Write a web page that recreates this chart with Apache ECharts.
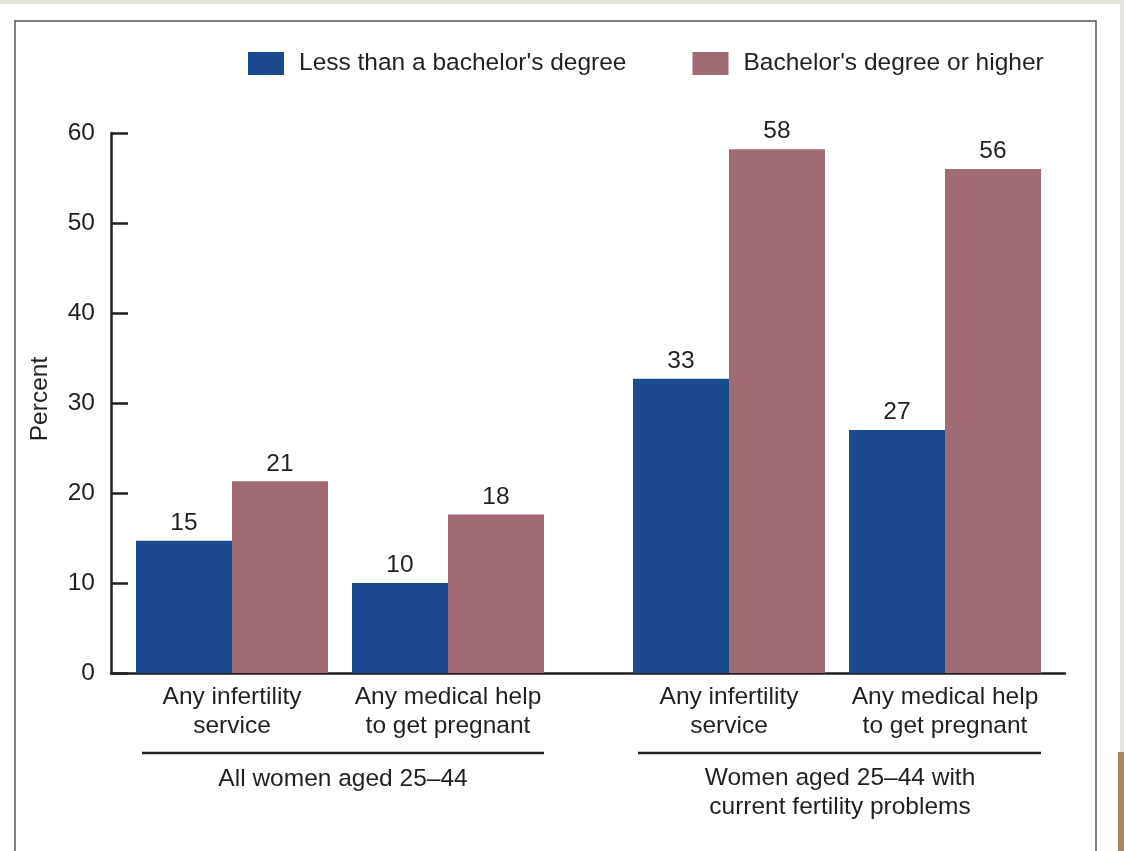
<!DOCTYPE html>
<html>
<head>
<meta charset="utf-8">
<script src="https://cdn.jsdelivr.net/npm/echarts@6/dist/echarts.min.js"></script>
<style>
  html, body { margin: 0; padding: 0; background: #fff; }
  #chart { width: 1124px; height: 851px; }
</style>
</head>
<body>
<div id="chart"></div>
<script>
// Данные графика
const seriesNames = ["Less than a bachelor's degree", "Bachelor's degree or higher"];
const categories = ['Any infertility\nservice', 'Any medical help\nto get pregnant'];
const groupNames = ['All women aged 25–44', 'Women aged 25–44 with\ncurrent fertility problems'];
// значения по группам: [группа][категория]
const lessThanBachelor = [[14.7, 10.0], [32.7, 27.0]];
const bachelorOrHigher = [[21.3, 17.6], [58.2, 56.0]];
const yTicks = { min: 0, max: 60, interval: 10 };

const INK = '#231f20';
const BLUE = '#1c4a8f';
const ROSE = '#a06b73';
const FONT = '"Liberation Sans", Arial, sans-serif';
const FS = 24.5;

const chart = echarts.init(document.getElementById('chart'), null, { renderer: 'canvas' });

const grids = [
  { left: 124, width: 432, top: 133, bottom: 178 },
  { left: 621, width: 432, top: 133, bottom: 178 },
  // базовая линия оси X на всю ширину
  { left: 111, right: 59, top: 133, bottom: 178 },
];

const xAxes = [0, 1].map((i) => ({
  type: 'category',
  gridIndex: i,
  data: categories,
  axisLine: { show: false },
  axisTick: { show: false },
  axisLabel: { color: INK, fontSize: FS, lineHeight: 29, fontFamily: FONT, margin: 10, interval: 0 },
}));
xAxes.push({
  type: 'value', gridIndex: 2, min: 0, max: 1,
  axisLine: { show: true, lineStyle: { color: INK, width: 2.5 } },
  axisTick: { show: false }, axisLabel: { show: false }, splitLine: { show: false },
});

const yAxes = [
  {
    type: 'value', gridIndex: 0, ...yTicks, offset: 13,
    name: 'Percent', nameLocation: 'middle', nameGap: 58, nameRotate: 90,
    nameTextStyle: { color: INK, fontSize: FS, fontFamily: FONT, padding: [0, 0, 0, 8] },
    axisLine: { show: true, lineStyle: { color: INK, width: 2.5 } },
    axisTick: { show: true, inside: true, length: 17, lineStyle: { color: INK, width: 2.5 } },
    axisLabel: { color: INK, fontSize: FS, fontFamily: FONT, margin: 16 },
    splitLine: { show: false },
  },
  { type: 'value', gridIndex: 1, ...yTicks, show: false },
  { type: 'value', gridIndex: 2, ...yTicks, show: false },
];

const barLabel = {
  show: true, position: 'top', distance: 5,
  color: INK, fontSize: FS, fontFamily: FONT,
  formatter: (p) => Math.round(p.value),
};

const series = [];
[0, 1].forEach((g) => {
  series.push({
    name: seriesNames[0], type: 'bar', xAxisIndex: g, yAxisIndex: g,
    data: lessThanBachelor[g], barWidth: 96, barGap: '0%',
    itemStyle: { color: BLUE }, label: barLabel, silent: true,
  });
  series.push({
    name: seriesNames[1], type: 'bar', xAxisIndex: g, yAxisIndex: g,
    data: bachelorOrHigher[g], barWidth: 96, barGap: '0%',
    itemStyle: { color: ROSE }, label: barLabel, silent: true,
  });
});

const groupLine = (x1, x2) => ({
  type: 'line', shape: { x1, y1: 753, x2, y2: 753 },
  style: { stroke: INK, lineWidth: 2.5 }, silent: true,
});
const groupText = (x, y, text) => ({
  type: 'text', x, y,
  style: { text, fill: INK, font: `${FS}px ${FONT}`, align: 'center', verticalAlign: 'top', lineHeight: 29 },
  silent: true,
});

chart.setOption({
  backgroundColor: '#fff',
  animation: false,
  textStyle: { fontFamily: FONT },
  legend: {
    left: 248, top: 51, padding: 0,
    itemWidth: 36, itemHeight: 23, itemGap: 66,
    icon: 'rect',
    data: seriesNames,
    textStyle: { color: INK, fontSize: FS, fontFamily: FONT, padding: [0, 0, 0, 10] },
    selectedMode: false,
  },
  grid: grids,
  xAxis: xAxes,
  yAxis: yAxes,
  series,
  graphic: [
    // фон страницы и рамка панели
    { type: 'rect', shape: { x: 0, y: 0, width: 1124, height: 4 }, style: { fill: '#e4e2dc' }, silent: true, z: -10 },
    { type: 'rect', shape: { x: 1120, y: 0, width: 4, height: 851 }, style: { fill: '#e4e2dc' }, silent: true, z: -10 },
    { type: 'rect', shape: { x: 1118, y: 752, width: 6, height: 99 }, style: { fill: '#a8875c' }, silent: true, z: -9 },
    { type: 'rect', shape: { x: 15, y: 21, width: 1081, height: 850 }, style: { fill: 'none', stroke: '#555', lineWidth: 1.5 }, silent: true },
    groupLine(142, 544),
    groupLine(638, 1041),
    groupText(343, 765, groupNames[0]),
    groupText(840, 764, groupNames[1]),
  ],
});
</script>
</body>
</html>
